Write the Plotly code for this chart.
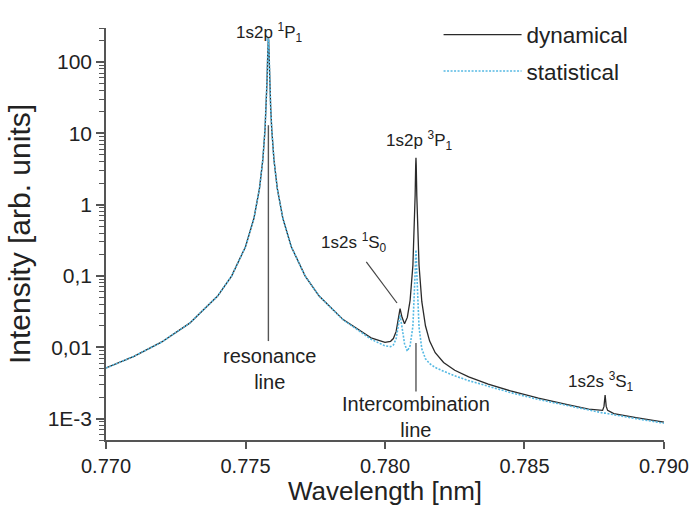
import math
import plotly.graph_objects as go

# ---- data ----
wavelength = [0.77000, 0.77100, 0.77200, 0.77300, 0.77400, 0.77450, 0.77500, 0.77530,
              0.77550, 0.77562, 0.77570, 0.77574, 0.77577, 0.77579, 0.77580, 0.77581,
              0.77582, 0.77583, 0.77584, 0.77585, 0.77587, 0.77590, 0.77594, 0.77602,
              0.77614, 0.77634, 0.77664, 0.77714, 0.77764, 0.77850, 0.77950, 0.78000,
              0.78020, 0.78030, 0.78040, 0.78047, 0.78054, 0.78061, 0.78070, 0.78080,
              0.78090, 0.78100, 0.78105, 0.78108, 0.78110, 0.78111, 0.78112, 0.78114,
              0.78117, 0.78122, 0.78132, 0.78145, 0.78160, 0.78180, 0.78210, 0.78250,
              0.78300, 0.78370, 0.78450, 0.78550, 0.78650, 0.78730, 0.78780, 0.78785,
              0.78789, 0.78793, 0.78798, 0.78820, 0.78900, 0.79000]

dynamical = [0.00511, 0.00745, 0.01186, 0.02176, 0.0522, 0.0993, 0.257, 0.638,
             1.676, 4.24, 11.4, 24.1, 52.9, 103.6, 147.9, 198.9,
             224.7, 198.9, 147.9, 103.6, 52.9, 24.1, 11.4, 4.24,
             1.676, 0.638, 0.257, 0.0994, 0.0523, 0.0244, 0.01355, 0.0117,
             0.01212, 0.01323, 0.01668, 0.0241, 0.0349, 0.0263, 0.0214, 0.0262,
             0.0455, 0.141, 0.43, 1.33, 3.57, 4.54, 3.57, 1.33,
             0.43, 0.141, 0.0435, 0.0200, 0.0122, 0.00837, 0.0061, 0.00475,
             0.00383, 0.00304, 0.00244, 0.00193, 0.001575, 0.001357, 0.00130, 0.00148,
             0.00214, 0.00148, 0.00130, 0.00117, 0.00103, 0.00089]

statistical = [0.00511, 0.00745, 0.01186, 0.02176, 0.0522, 0.0993, 0.257, 0.638,
               1.676, 4.24, 11.4, 24.1, 52.9, 103.6, 147.9, 198.9,
               224.7, 198.9, 147.9, 103.6, 52.9, 24.1, 11.4, 4.24,
               1.676, 0.638, 0.257, 0.0993, 0.0522, 0.0242, 0.01296, 0.01044,
               0.0102, 0.01074, 0.01322, 0.0193, 0.0283, 0.0191, 0.0112, 0.0088,
               0.0105, 0.0197, 0.046, 0.11, 0.202, 0.232, 0.202, 0.11,
               0.046, 0.0191, 0.0095, 0.0069, 0.0059, 0.0052, 0.0046, 0.00397,
               0.00340, 0.00281, 0.00231, 0.00185, 0.00152, 0.001315, 0.00120, 0.00119,
               0.00119, 0.00118, 0.00118, 0.00113, 0.000996, 0.00086]

# y tick labels as printed in the figure (decimal comma), keyed by plotly's default text
ytick_default = ["0.001", "0.01", "0.1"]
ytick_text = ["1E-3", "0,01", "0,1"]
xtick_vals = [0.770, 0.775, 0.780, 0.785, 0.790]
xtick_text = ["0.770", "0.775", "0.780", "0.785", "0.790"]

# line labels: (text, wavelength, intensity)
line_labels = [
    ("1s2p <sup>3</sup>P<sub>1</sub>", 0.78125, 8.05),
    ("1s2s <sup>1</sup>S<sub>0</sub>", 0.77889, 0.29),
    ("1s2s <sup>3</sup>S<sub>1</sub>", 0.78775, 0.0033),
]
FONT = "Liberation Sans, Arial, sans-serif"
TXT = "#222222"
AX = "#555555"
YRANGE = [math.log10(5e-4), math.log10(300)]

fig = go.Figure()
fig.add_trace(go.Scatter(x=wavelength, y=dynamical, mode="lines", name="dynamical",
                         legendgroup="a",
                         line=dict(color="#2a2a2a", width=1.3)))
fig.add_trace(go.Scatter(x=wavelength, y=statistical, mode="lines", name="statistical",
                         legendgroup="b",
                         line=dict(color="#55b9e3", width=1.6, dash="2px,1.5px")))

for text, xv, yv in line_labels:
    fig.add_annotation(x=xv, y=math.log10(yv), xref="x", yref="y", text=text,
                       showarrow=False, font=dict(size=17, color=TXT, family=FONT))
fig.add_annotation(x=0.77587, y=1.024, xref="x", yref="paper",
                   text="1s2p <sup>1</sup>P<sub>1</sub>", showarrow=False,
                   font=dict(size=17, color=TXT, family=FONT))
fig.add_annotation(x=0.77585, y=math.log10(0.0049), xref="x", yref="y",
                   text="resonance<br>line", showarrow=False,
                   font=dict(size=20, color=TXT, family=FONT))
fig.add_annotation(x=0.78112, y=math.log10(0.00106), xref="x", yref="y",
                   text="Intercombination<br>line", showarrow=False,
                   font=dict(size=20, color=TXT, family=FONT))

# pointer lines
fig.add_shape(type="line", xref="x", yref="y", x0=0.77582, x1=0.77582, y0=13, y1=0.0122,
              line=dict(color="#555555", width=1.4))
fig.add_shape(type="line", xref="x", yref="y", x0=0.78111, x1=0.78111, y0=0.0115, y1=0.0024,
              line=dict(color="#555555", width=1.4))
fig.add_shape(type="line", xref="x", yref="y", x0=0.77933, x1=0.78043, y0=0.157, y1=0.0417,
              line=dict(color="#444444", width=1.2))

fig.update_layout(
    width=689, height=506,
    margin=dict(l=106, r=25, t=28, b=66),
    paper_bgcolor="white", plot_bgcolor="white",
    font=dict(family=FONT, color=TXT),
    showlegend=True,
    legend=dict(x=0.596, y=1.035, xanchor="left", yanchor="top",
                bgcolor="rgba(0,0,0,0)", font=dict(size=22.5, color=TXT, family=FONT),
                itemwidth=78, tracegroupgap=4),
    xaxis=dict(range=[0.769999, 0.790001], tickmode="array", tickvals=xtick_vals,
               ticktext=xtick_text, showgrid=False, zeroline=False,
               showline=True, linecolor=AX, linewidth=1.5,
               ticks="outside", ticklen=7, tickcolor=AX, tickwidth=1.5,
               ticklabeloverflow="allow", automargin=False,
               tickfont=dict(size=20, color=TXT, family=FONT),
               title=dict(text="Wavelength [nm]", font=dict(size=26, color=TXT, family=FONT),
                          standoff=8)),
    yaxis=dict(type="log", range=YRANGE,
               tickmode="linear", tick0=0, dtick=1, exponentformat="none",
               labelalias=dict(zip(ytick_default, ytick_text)),
               showgrid=False, zeroline=False,
               showline=True, linecolor=AX, linewidth=1.5,
               ticks="outside", ticklen=8, tickcolor=AX, tickwidth=1.5,
               minor=dict(ticks="outside", ticklen=5, tickcolor=AX, tickwidth=1.2,
                          dtick="D1", showgrid=False),
               automargin=False,
               tickfont=dict(size=21, color=TXT, family=FONT),
               title=dict(text="Intensity [arb. units]", font=dict(size=30, color=TXT, family=FONT),
                          standoff=8)),
)

fig.write_html("out.html")
